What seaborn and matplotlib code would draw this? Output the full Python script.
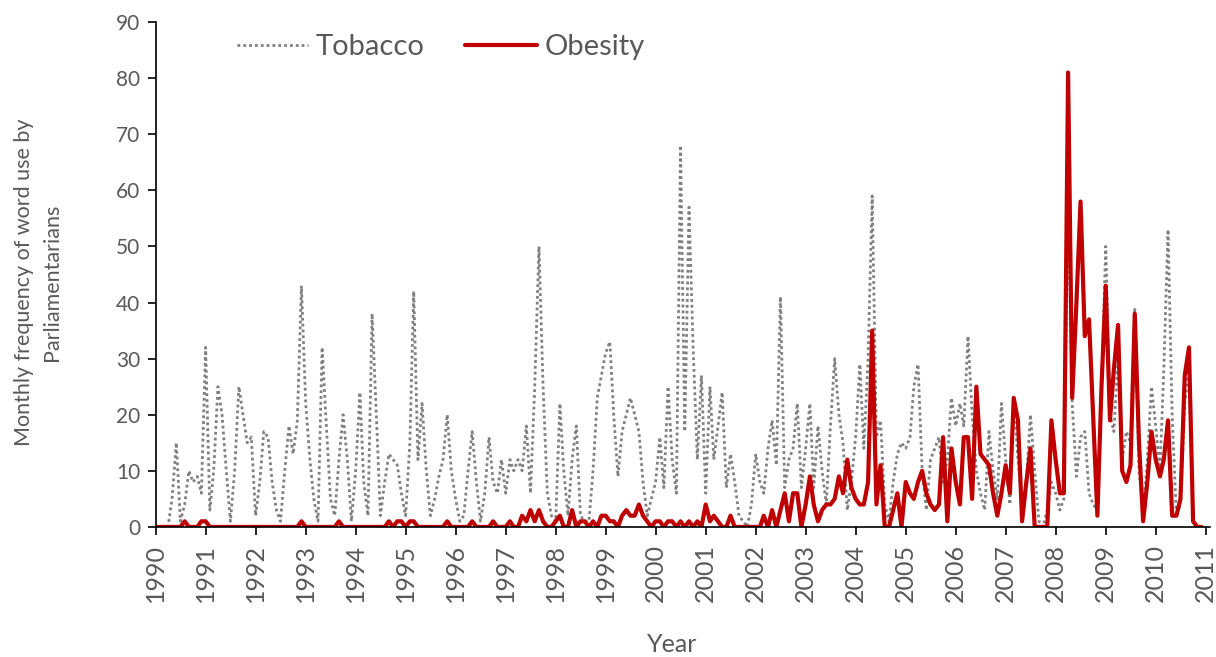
import pandas as pd
import numpy as np
import seaborn as sns
import matplotlib.pyplot as plt
import matplotlib.dates as mdates

sns.set_theme(style='white')
plt.rcParams['font.family'] = ['Lato', 'DejaVu Sans']

# monthly counts, Jan 1990 - Dec 2010 (one row per year)
tobacco = [
    0, 0, 0, 0, 5, 15, 1, 4, 10, 8, 9, 6,          # 1990
    32, 3, 10, 25, 20, 10, 1, 10, 25, 20, 15, 16,  # 1991
    2, 8, 17, 16, 8, 3, 1, 10, 18, 13, 19, 43,     # 1992
    22, 12, 5, 1, 32, 18, 5, 2, 12, 20, 12, 1,     # 1993
    10, 24, 8, 2, 38, 20, 2, 8, 13, 12, 11, 6,     # 1994
    2, 15, 42, 12, 22, 10, 2, 5, 9, 12, 20, 10,    # 1995
    5, 1, 2, 10, 17, 8, 1, 6, 16, 8, 6, 12,        # 1996
    6, 12, 10, 12, 10, 18, 6, 25, 50, 25, 6, 2,    # 1997
    1, 22, 10, 2, 12, 18, 2, 1, 1, 10, 23, 27,     # 1998
    31, 33, 20, 9, 17, 20, 23, 20, 17, 8, 2, 5,    # 1999
    8, 16, 7, 25, 12, 6, 68, 17, 57, 32, 12, 27,   # 2000
    6, 25, 12, 18, 24, 7, 13, 8, 2, 1, 0, 4,       # 2001
    13, 8, 6, 14, 19, 11, 41, 7, 12, 14, 22, 7,    # 2002
    14, 22, 7, 18, 10, 4, 18, 30, 20, 15, 3, 8,    # 2003
    16, 29, 14, 30, 59, 16, 19, 4, 1, 8, 13, 15,   # 2004
    14, 16, 25, 29, 10, 3, 12, 14, 16, 8, 12, 23,  # 2005
    18, 22, 18, 34, 20, 10, 6, 3, 17, 10, 5, 22,   # 2006
    12, 4, 23, 12, 4, 8, 20, 10, 1, 0, 3, 8,       # 2007
    6, 3, 5, 60, 22, 9, 16, 17, 6, 4, 3, 25,       # 2008
    50, 20, 17, 30, 12, 17, 15, 39, 10, 2, 12, 25, # 2009
    18, 10, 28, 53, 20, 2, 4, 22, 28, 1, 0, 0,     # 2010
]
obesity = [
    0, 0, 0, 0, 0, 0, 0, 1, 0, 0, 0, 1,            # 1990
    1, 0, 0, 0, 0, 0, 0, 0, 0, 0, 0, 0,            # 1991
    0, 0, 0, 0, 0, 0, 0, 0, 0, 0, 0, 1,            # 1992
    0, 0, 0, 0, 0, 0, 0, 0, 1, 0, 0, 0,            # 1993
    0, 0, 0, 0, 0, 0, 0, 0, 1, 0, 1, 1,            # 1994
    0, 1, 1, 0, 0, 0, 0, 0, 0, 0, 1, 0,            # 1995
    0, 0, 0, 0, 1, 0, 0, 0, 0, 1, 0, 0,            # 1996
    0, 1, 0, 0, 2, 1, 3, 1, 3, 1, 0, 0,            # 1997
    1, 2, 0, 0, 3, 0, 1, 1, 0, 1, 0, 2,            # 1998
    2, 1, 1, 0, 2, 3, 2, 2, 4, 2, 1, 0,            # 1999
    1, 1, 0, 1, 1, 0, 1, 0, 1, 0, 1, 0,            # 2000
    4, 1, 2, 1, 0, 0, 2, 0, 0, 0, 0, 0,            # 2001
    0, 0, 2, 0, 3, 0, 3, 6, 1, 6, 6, 0,            # 2002
    4, 9, 4, 1, 3, 4, 4, 5, 9, 6, 12, 7,           # 2003
    5, 4, 4, 8, 35, 4, 11, 0, 0, 3, 6, 0,          # 2004
    8, 6, 5, 8, 10, 6, 4, 3, 4, 16, 1, 14,         # 2005
    8, 4, 16, 16, 5, 25, 13, 12, 11, 6, 2, 6,      # 2006
    11, 6, 23, 19, 1, 8, 14, 0, 0, 0, 0, 19,       # 2007
    12, 6, 6, 81, 23, 40, 58, 34, 37, 20, 2, 25,   # 2008
    43, 19, 28, 36, 10, 8, 11, 38, 15, 1, 8, 17,   # 2009
    12, 9, 12, 19, 2, 2, 5, 27, 32, 1, 0, 0,       # 2010
]
months = pd.date_range('1990-01-01', periods=len(tobacco), freq='MS')

df = pd.DataFrame({'month': months, 'Tobacco': tobacco, 'Obesity': obesity})

fig, ax = plt.subplots(figsize=(12.16, 6.57), dpi=100)
fig.subplots_adjust(left=0.128, right=0.995, top=0.9665, bottom=0.198)

text_col = '#595959'
sns.lineplot(data=df, x='month', y='Tobacco', ax=ax, color='#808080',
             linestyle=(0, (1, 1.1)), linewidth=2.0, label='Tobacco')
sns.lineplot(data=df, x='month', y='Obesity', ax=ax, color='#c00000',
             linewidth=3.0, label='Obesity')

ax.set_ylim(0, 90)
ax.set_yticks(range(0, 91, 10))
ax.set_xlim(pd.Timestamp('1990-01-01'), pd.Timestamp('2011-02-01'))
ax.xaxis.set_major_locator(mdates.YearLocator())
ax.xaxis.set_major_formatter(mdates.DateFormatter('%Y'))

for s in ['top', 'right']:
    ax.spines[s].set_visible(False)
for s in ['left', 'bottom']:
    ax.spines[s].set_color('black')
    ax.spines[s].set_linewidth(1.2)
ax.tick_params(axis='both', which='major', direction='out', length=6, width=1.2,
               color='black', labelcolor=text_col, bottom=True, left=True)
ax.tick_params(axis='y', labelsize=15, pad=5)
ax.tick_params(axis='x', labelsize=18, pad=6, labelrotation=90)

ax.set_xlabel('')
ax.set_ylabel('')
fig.text(672 / 1216, 1 - 645 / 657, 'Year', fontsize=18, color=text_col,
         ha='center', va='center')
fig.text(38 / 1216, 1 - 282 / 657, 'Monthly frequency of word use by\nParliamentarians',
         fontsize=15.5, color=text_col, rotation=90, ha='center', va='center',
         multialignment='center', linespacing=1.5)

leg = ax.legend(loc='center left', bbox_to_anchor=(237 / 1216, 1 - 47 / 657),
                bbox_transform=fig.transFigure, ncol=2, frameon=False,
                fontsize=21, handlelength=2.45, columnspacing=1.4,
                handletextpad=0.25, borderpad=0, borderaxespad=0)
for t in leg.get_texts():
    t.set_color(text_col)

fig.savefig('out.png', dpi=100)
